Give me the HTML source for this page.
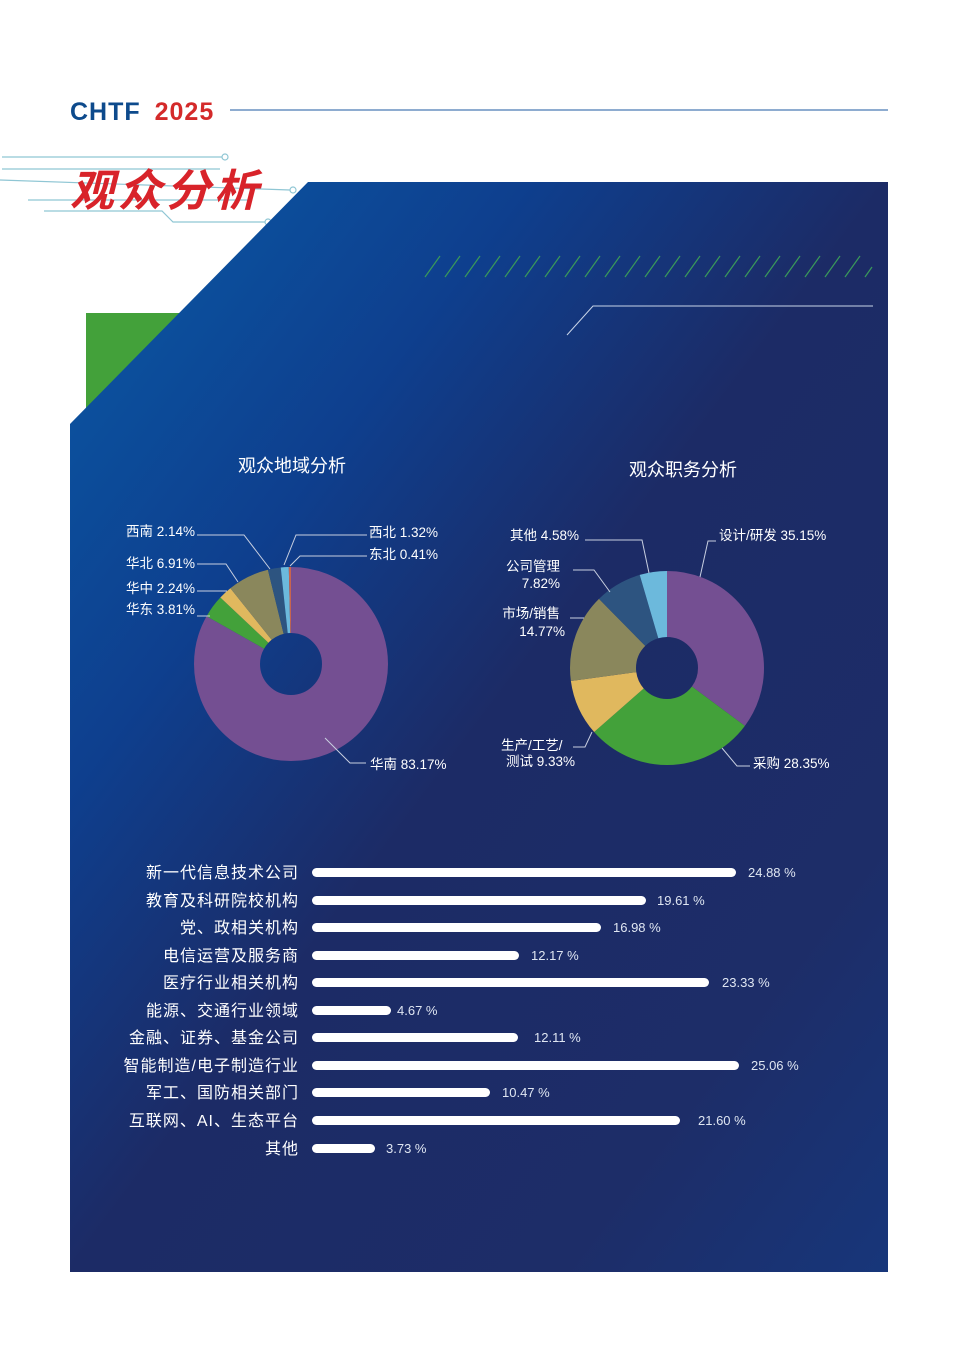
<!DOCTYPE html>
<html><head><meta charset="utf-8"><style>
body{margin:0;width:958px;height:1356px;background:#fff;overflow:hidden;font-family:"Liberation Sans","Noto Sans CJK SC",sans-serif;}
svg{position:absolute;left:0;top:0}
</style></head><body>
<svg width="958" height="1356" viewBox="0 0 958 1356" font-family="Liberation Sans, Noto Sans CJK SC, sans-serif">
<defs>
<linearGradient id="bg" x1="0" y1="0" x2="1" y2="1">
<stop offset="0" stop-color="#0a5aa6"/>
<stop offset="0.28" stop-color="#0e3f8e"/>
<stop offset="0.5" stop-color="#1c2b66"/>
<stop offset="0.8" stop-color="#1d2d68"/>
<stop offset="1" stop-color="#17367a"/>
</linearGradient>
</defs>
<text x="70" y="120" font-size="25" font-weight="bold" fill="#0d4a8c" letter-spacing="1">CHTF <tspan fill="#d42a2a" dx="6">2025</tspan></text>
<line x1="230" y1="110" x2="888" y2="110" stroke="#4a7ab5" stroke-width="1.2"/>
<g stroke="#8fc6d4" stroke-width="1.2" fill="none">
<line x1="2" y1="157" x2="222" y2="157"/><circle cx="225" cy="157" r="3"/>
<line x1="2" y1="169" x2="220" y2="169"/>
<line x1="0" y1="180" x2="290" y2="190"/><circle cx="293" cy="190" r="3"/>
<line x1="28" y1="200" x2="250" y2="200"/>
<polyline points="44,211 162,211 173,222 265,222"/><circle cx="268" cy="222" r="3"/>
</g>
<text x="70" y="206" font-size="44" font-weight="bold" fill="#d8232a" font-family="Noto Sans CJK SC, sans-serif" letter-spacing="4" font-style="italic">观众分析</text>
<rect x="86" y="313" width="110" height="110" fill="#43a13a"/>
<polygon points="308,182 888,182 888,1272 70,1272 70,424" fill="url(#bg)"/>
<g stroke="#3a9a5a" stroke-width="1.2">
<line x1="425" y1="277" x2="440" y2="256"/><line x1="445" y1="277" x2="460" y2="256"/><line x1="465" y1="277" x2="480" y2="256"/><line x1="485" y1="277" x2="500" y2="256"/><line x1="505" y1="277" x2="520" y2="256"/><line x1="525" y1="277" x2="540" y2="256"/><line x1="545" y1="277" x2="560" y2="256"/><line x1="565" y1="277" x2="580" y2="256"/><line x1="585" y1="277" x2="600" y2="256"/><line x1="605" y1="277" x2="620" y2="256"/><line x1="625" y1="277" x2="640" y2="256"/><line x1="645" y1="277" x2="660" y2="256"/><line x1="665" y1="277" x2="680" y2="256"/><line x1="685" y1="277" x2="700" y2="256"/><line x1="705" y1="277" x2="720" y2="256"/><line x1="725" y1="277" x2="740" y2="256"/><line x1="745" y1="277" x2="760" y2="256"/><line x1="765" y1="277" x2="780" y2="256"/><line x1="785" y1="277" x2="800" y2="256"/><line x1="805" y1="277" x2="820" y2="256"/><line x1="825" y1="277" x2="840" y2="256"/><line x1="845" y1="277" x2="860" y2="256"/><line x1="865" y1="277" x2="872" y2="267"/>
</g>
<polyline points="567,335 593,306 873,306" stroke="#c8d4e8" stroke-width="1" fill="none"/>

<text x="292" y="472" font-size="18" fill="#fff" text-anchor="middle">观众地域分析</text>
<text x="683" y="476" font-size="18" fill="#fff" text-anchor="middle">观众职务分析</text>

<g transform="translate(291,664) rotate(-90)" fill="none" stroke-width="66">
<circle r="64" stroke="#744f92" stroke-dasharray="334.44 402.12" stroke-dashoffset="0"/>
<circle r="64" stroke="#43a13a" stroke-dasharray="15.32 402.12" stroke-dashoffset="-334.44"/>
<circle r="64" stroke="#e0b85e" stroke-dasharray="9.01 402.12" stroke-dashoffset="-349.76"/>
<circle r="64" stroke="#8a875c" stroke-dasharray="27.79 402.12" stroke-dashoffset="-358.77"/>
<circle r="64" stroke="#2d5480" stroke-dasharray="8.61 402.12" stroke-dashoffset="-386.56"/>
<circle r="64" stroke="#6cb9dc" stroke-dasharray="5.31 402.12" stroke-dashoffset="-395.17"/>
<circle r="64" stroke="#c8644e" stroke-dasharray="1.65 402.12" stroke-dashoffset="-400.48"/>
</g>
<g transform="translate(667,668) rotate(-90)" fill="none" stroke-width="66">
<circle r="64" stroke="#744f92" stroke-dasharray="141.35 402.12" stroke-dashoffset="0"/>
<circle r="64" stroke="#43a13a" stroke-dasharray="114.0 402.12" stroke-dashoffset="-141.35"/>
<circle r="64" stroke="#e0b85e" stroke-dasharray="37.52 402.12" stroke-dashoffset="-255.35"/>
<circle r="64" stroke="#8a875c" stroke-dasharray="59.39 402.12" stroke-dashoffset="-292.87"/>
<circle r="64" stroke="#2d5480" stroke-dasharray="31.45 402.12" stroke-dashoffset="-352.26"/>
<circle r="64" stroke="#6cb9dc" stroke-dasharray="18.42 402.12" stroke-dashoffset="-383.71"/>
</g>

<g stroke="#c8cfe0" stroke-width="1" fill="none">
<polyline points="197,535 244,535 270,569"/>
<polyline points="197,564 226,564 238,582"/>
<polyline points="197,591 227,591"/>
<polyline points="197,616 210,616"/>
<polyline points="367,535 296,535 284,565"/>
<polyline points="367,556 300,556 290,566"/>
<polyline points="325,738 350,763 366,763"/>
<polyline points="585,540 642,540 649,573"/>
<polyline points="573,570 594,570 610,592"/>
<polyline points="570,618 584,618"/>
<polyline points="573,747 585,747 592,732"/>
<polyline points="716,541 708,541 700,577"/>
<polyline points="722,748 737,766 750,766"/>
</g>
<g font-size="13.5" fill="#fff">
<text x="126" y="536">西南 2.14%</text>
<text x="126" y="568">华北 6.91%</text>
<text x="126" y="593">华中 2.24%</text>
<text x="126" y="614">华东 3.81%</text>
<text x="369" y="537">西北 1.32%</text>
<text x="369" y="559">东北 0.41%</text>
<text x="370" y="769">华南 83.17%</text>
<text x="510" y="540">其他 4.58%</text>
<text x="560" y="571" text-anchor="end">公司管理</text>
<text x="560" y="588" text-anchor="end">7.82%</text>
<text x="560" y="618" text-anchor="end">市场/销售</text>
<text x="565" y="636" text-anchor="end">14.77%</text>
<text x="501" y="750">生产/工艺/</text>
<text x="506" y="766">测试 9.33%</text>
<text x="719" y="540">设计/研发 35.15%</text>
<text x="753" y="768">采购 28.35%</text>
</g>

<g font-size="16" fill="#fff" text-anchor="end" letter-spacing="1">
<text x="299" y="878">新一代信息技术公司</text>
<text x="299" y="906">教育及科研院校机构</text>
<text x="299" y="933">党、政相关机构</text>
<text x="299" y="961">电信运营及服务商</text>
<text x="299" y="988">医疗行业相关机构</text>
<text x="299" y="1016">能源、交通行业领域</text>
<text x="299" y="1043">金融、证券、基金公司</text>
<text x="299" y="1071">智能制造/电子制造行业</text>
<text x="299" y="1098">军工、国防相关部门</text>
<text x="299" y="1126">互联网、AI、生态平台</text>
<text x="299" y="1154">其他</text>
</g>
<g fill="#fff">
<rect x="312" y="868" width="424" height="9" rx="4.5"/>
<rect x="312" y="896" width="334" height="9" rx="4.5"/>
<rect x="312" y="923" width="289" height="9" rx="4.5"/>
<rect x="312" y="951" width="207" height="9" rx="4.5"/>
<rect x="312" y="978" width="397" height="9" rx="4.5"/>
<rect x="312" y="1006" width="79" height="9" rx="4.5"/>
<rect x="312" y="1033" width="206" height="9" rx="4.5"/>
<rect x="312" y="1061" width="427" height="9" rx="4.5"/>
<rect x="312" y="1088" width="178" height="9" rx="4.5"/>
<rect x="312" y="1116" width="368" height="9" rx="4.5"/>
<rect x="312" y="1144" width="63" height="9" rx="4.5"/>
</g>
<g font-size="13" fill="#dfe6f2">
<text x="748" y="877">24.88 %</text>
<text x="657" y="905">19.61 %</text>
<text x="613" y="932">16.98 %</text>
<text x="531" y="960">12.17 %</text>
<text x="722" y="987">23.33 %</text>
<text x="397" y="1015">4.67 %</text>
<text x="534" y="1042">12.11 %</text>
<text x="751" y="1070">25.06 %</text>
<text x="502" y="1097">10.47 %</text>
<text x="698" y="1125">21.60 %</text>
<text x="386" y="1153">3.73 %</text>
</g>
</svg>
</body></html>
